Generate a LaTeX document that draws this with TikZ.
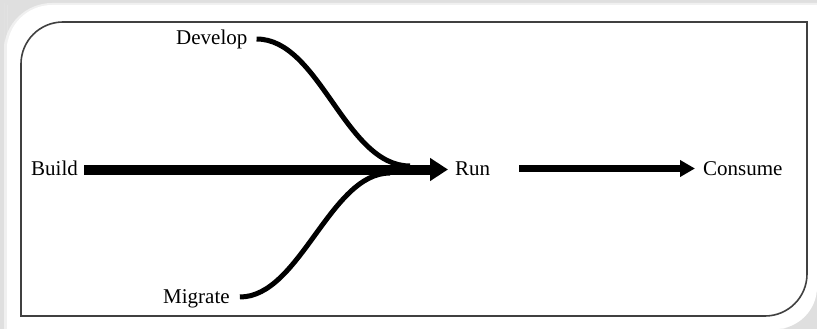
\documentclass[tikz,border=0pt]{standalone}
\usepackage{fontspec}
\setmainfont{Liberation Serif}
\usetikzlibrary{arrows.meta}
\begin{document}
\begin{tikzpicture}[x=1pt,y=-1pt,
  lbl/.style={inner sep=0pt,anchor=base west,text height=14pt,text depth=2pt,font=\fontsize{21}{25}\selectfont},
  mainarrow/.style={line width=10pt,-{Triangle[length=18pt,width=22pt]}},
  flow/.style={line width=5pt},
  smallarrow/.style={line width=7pt,-{Triangle[length=15pt,width=16pt]}}]
\useasboundingbox (0,0) rectangle (817,329);
% background frame
\fill[gray!25] (0,0) rectangle (817,329);
\fill[gray!12] (4,3) -- (4,50) .. controls (4,24) and (26,3) .. (52,3) -- (817,3) -- (817,282) .. controls (817,308) and (796,331) .. (770,331) -- (4,331) -- cycle;
\fill[white] (7,5) -- (7,50) .. controls (7,25.2) and (27.2,5) .. (52,5) -- (817,5) -- (817,287) .. controls (817,310.2) and (798.2,329) .. (775,329) -- (7,329) -- cycle;
% inner box
\draw[line width=1.6pt,black!75] (21,316) -- (21,64) .. controls (21,40.8) and (39.8,22) .. (63,22) -- (807,22) -- (807,274) .. controls (807,297.2) and (788.2,316) .. (765,316) -- cycle;
% nodes
\node[lbl] (build) at (31,175.5) {Build};
\node[lbl] (run) at (455,175.5) {Run};
\node[lbl] (consume) at (703,175.5) {Consume};
\node[lbl] (develop) at (176,45) {Develop};
\node[lbl] (migrate) at (163,303) {Migrate};
\coordinate (mergetop) at (410,166);
\coordinate (mergebot) at (390,173);
% connectors
\draw[flow,shorten <=9pt] (develop.east) .. controls (320,39) and (345,166) .. (mergetop);
\draw[flow,shorten <=10pt] (migrate.east) .. controls (300,297) and (330,173) .. (mergebot);
\draw[mainarrow,shorten <=6pt,shorten >=7pt] (build.east) -- (run.west);
\draw[smallarrow,shorten <=29pt,shorten >=8pt] ([yshift=1pt]run.east) -- ([yshift=1pt]consume.west);
\end{tikzpicture}
\end{document}
